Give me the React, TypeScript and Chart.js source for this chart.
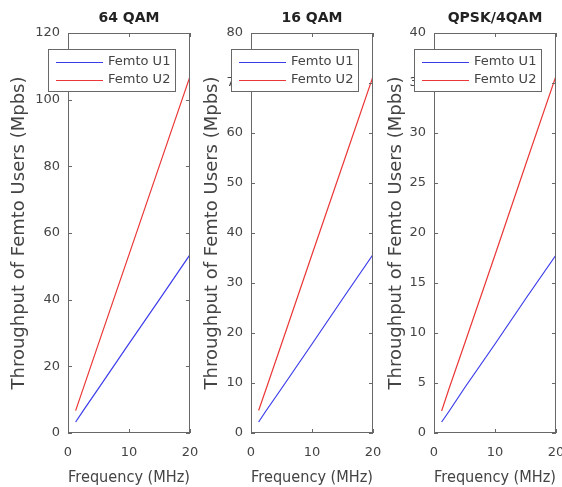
import React, { useEffect, useRef } from "react";
import { Chart, registerables } from "chart.js";

Chart.register(...registerables);

// ---------------- data ----------------
const panelTitles = ["64 QAM", "16 QAM", "QPSK/4QAM"];
const seriesLabels = ["Femto U1", "Femto U2"];
const bandwidthMHz = [1.25, 2.5, 5, 10, 15, 20];

const qam64U1 = [3.3, 6.7, 13.4, 26.8, 40.1, 53.5];
const qam64U2 = [6.7, 13.4, 26.8, 53.5, 80.3, 107.0];
const qam16U1 = [2.2, 4.5, 8.9, 17.8, 26.8, 35.7];
const qam16U2 = [4.5, 8.9, 17.8, 35.7, 53.5, 71.3];
const qpskU1 = [1.1, 2.2, 4.5, 8.9, 13.4, 17.8];
const qpskU2 = [2.2, 4.5, 8.9, 17.8, 26.8, 35.7];

const xTicks = [0, 10, 20];
const yTicks64 = [0, 20, 40, 60, 80, 100, 120];
const yTicks16 = [0, 10, 20, 30, 40, 50, 60, 70, 80];
const yTicksQpsk = [0, 5, 10, 15, 20, 25, 30, 35, 40];

const xLabel = "Frequency (MHz)";
const yLabel = "Throughput of Femto Users (Mpbs)";

// ---------------- styling / layout ----------------
const W = 562;
const H = 487;
const FONT = "DejaVu Sans";
const seriesColors = ["rgb(60,60,235)", "rgb(235,55,55)"];
const AXIS_COLOR = "#686868";
const TEXT_COLOR = "#444";

const panelData = [
  { title: panelTitles[0], u1: qam64U1, u2: qam64U2, yTicks: yTicks64 },
  { title: panelTitles[1], u1: qam16U1, u2: qam16U2, yTicks: yTicks16 },
  { title: panelTitles[2], u1: qpskU1, u2: qpskU2, yTicks: yTicksQpsk },
];
const panelBoxes = [
  { L: 68, R: 190, yw: 59 },
  { L: 251, R: 373, yw: 49 },
  { L: 434, R: 556, yw: 48 },
];
const AREA_TOP = 33;
const XAXIS_H = 54;

const matlabAxes = {
  id: "matlabAxes",
  afterDatasetsDraw(chart: any, _args: any, opts: any) {
    const { ctx, chartArea: a } = chart;
    const xs = chart.scales.x;
    const ys = chart.scales.y;
    ctx.save();
    ctx.strokeStyle = AXIS_COLOR;
    ctx.lineWidth = 1;
    ctx.strokeRect(a.left + 0.5, a.top + 0.5, a.right - a.left - 1, a.bottom - a.top - 1);
    const tl = 4;
    ctx.beginPath();
    xs.ticks.forEach((t: any) => {
      const px = Math.round(xs.getPixelForValue(t.value)) + 0.5;
      ctx.moveTo(px, a.bottom);
      ctx.lineTo(px, a.bottom - tl);
      ctx.moveTo(px, a.top);
      ctx.lineTo(px, a.top + tl);
    });
    ys.ticks.forEach((t: any) => {
      const py = Math.round(ys.getPixelForValue(t.value)) + 0.5;
      ctx.moveTo(a.left, py);
      ctx.lineTo(a.left + tl, py);
      ctx.moveTo(a.right, py);
      ctx.lineTo(a.right - tl, py);
    });
    ctx.stroke();
    // panel title
    ctx.fillStyle = "#222";
    ctx.font = `bold 14px "${FONT}"`;
    ctx.textAlign = "center";
    ctx.textBaseline = "middle";
    ctx.fillText(opts.title, (a.left + a.right) / 2, 18);
    ctx.restore();
  },
  afterDraw(chart: any) {
    const { ctx, chartArea: a } = chart;
    const ds = chart.data.datasets;
    ctx.save();
    ctx.font = `13px "${FONT}"`;
    let tw = 0;
    ds.forEach((d: any) => {
      tw = Math.max(tw, ctx.measureText(d.label).width);
    });
    const lx = Math.round(a.left - 20);
    const ly = 49;
    const lw = Math.round(60 + tw + 5);
    const lh = 42;
    ctx.fillStyle = "#fff";
    ctx.fillRect(lx, ly, lw, lh);
    ctx.strokeStyle = AXIS_COLOR;
    ctx.lineWidth = 1;
    ctx.strokeRect(lx + 0.5, ly + 0.5, lw, lh);
    ds.forEach((d: any, i: number) => {
      const y = ly + 13 + i * 18;
      ctx.strokeStyle = d.borderColor;
      ctx.lineWidth = 1.2;
      ctx.beginPath();
      ctx.moveTo(lx + 8, y + 0.5);
      ctx.lineTo(lx + 55, y + 0.5);
      ctx.stroke();
      ctx.fillStyle = TEXT_COLOR;
      ctx.textAlign = "left";
      ctx.textBaseline = "middle";
      ctx.fillText(d.label, lx + 60, y);
    });
    ctx.restore();
  },
};

function makeConfig(idx: number): any {
  const p = panelData[idx];
  const b = panelBoxes[idx];
  const series = [p.u1, p.u2];
  return {
    type: "line",
    data: {
      datasets: series.map((arr, si) => ({
        label: seriesLabels[si],
        data: bandwidthMHz.map((x, i) => ({ x, y: arr[i] })),
        borderColor: seriesColors[si],
        backgroundColor: seriesColors[si],
        borderWidth: 1.2,
        pointRadius: 0,
        tension: 0,
        fill: false,
      })),
    },
    options: {
      responsive: false,
      animation: false,
      devicePixelRatio: 1,
      layout: {
        padding: { left: b.L - b.yw, right: W - b.R, top: AREA_TOP, bottom: 0 },
      },
      plugins: {
        legend: { display: false },
        tooltip: { enabled: false },
        title: { display: false },
        matlabAxes: { title: p.title },
      },
      scales: {
        x: {
          type: "linear",
          min: xTicks[0],
          max: xTicks[xTicks.length - 1],
          afterBuildTicks: (s: any) => {
            s.ticks = xTicks.map((v) => ({ value: v }));
          },
          afterFit: (s: any) => {
            s.height = XAXIS_H;
            s.paddingLeft = 0;
            s.paddingRight = 0;
          },
          grid: { display: false, drawTicks: false },
          border: { display: false },
          ticks: {
            padding: 12,
            color: TEXT_COLOR,
            font: { family: FONT, size: 13 },
            maxRotation: 0,
            autoSkip: false,
          },
          title: {
            display: true,
            text: xLabel,
            color: TEXT_COLOR,
            font: { family: FONT, size: 16 },
            padding: 0,
          },
        },
        y: {
          type: "linear",
          min: p.yTicks[0],
          max: p.yTicks[p.yTicks.length - 1],
          afterBuildTicks: (s: any) => {
            s.ticks = p.yTicks.map((v) => ({ value: v }));
          },
          afterFit: (s: any) => {
            s.width = b.yw;
            s.paddingTop = 0;
            s.paddingBottom = 0;
          },
          grid: { display: false, drawTicks: false },
          border: { display: false },
          ticks: {
            padding: 8,
            color: TEXT_COLOR,
            font: { family: FONT, size: 13 },
            autoSkip: false,
          },
          title: {
            display: true,
            text: yLabel,
            color: TEXT_COLOR,
            font: { family: FONT, size: 18 },
            padding: 0,
          },
        },
      },
    },
    plugins: [matlabAxes],
  };
}

function Panel({ idx }: { idx: number }) {
  const ref = useRef<HTMLCanvasElement | null>(null);
  useEffect(() => {
    if (!ref.current) return;
    const chart = new Chart(ref.current, makeConfig(idx));
    return () => chart.destroy();
  }, [idx]);
  return (
    <canvas
      ref={ref}
      width={W}
      height={H}
      style={{ position: "absolute", left: 0, top: 0, width: W, height: H }}
    />
  );
}

export default function App() {
  return (
    <div
      style={{
        position: "fixed",
        left: 0,
        top: 0,
        width: W,
        height: H,
        background: "#fff",
        overflow: "hidden",
      }}
    >
      {panelData.map((_, i) => (
        <Panel key={i} idx={i} />
      ))}
    </div>
  );
}
